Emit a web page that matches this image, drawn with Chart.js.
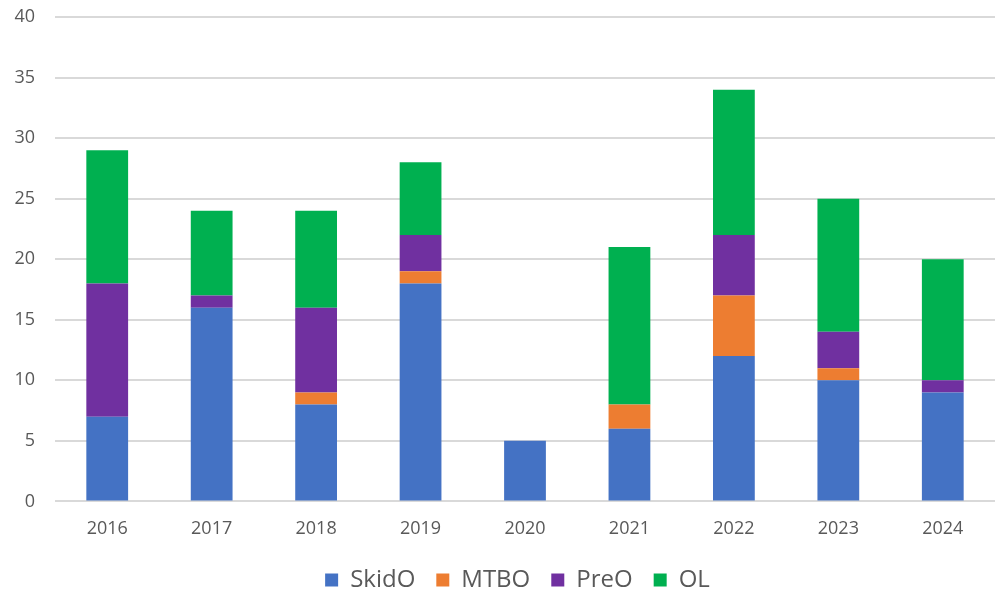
<!DOCTYPE html>
<html>
<head>
<meta charset="utf-8">
<script src="https://cdn.jsdelivr.net/npm/chart.js@4/dist/chart.umd.min.js"></script>
<style>
  html, body { margin: 0; padding: 0; background: #fff; overflow: hidden; }
  #wrap { width: 998px; height: 602px; }
</style>
</head>
<body>
<div id="wrap"><canvas id="chart"></canvas></div>
<script>
// Data
const years = ['2016', '2017', '2018', '2019', '2020', '2021', '2022', '2023', '2024'];
const skido = [7, 16, 8, 18, 5, 6, 12, 10, 9];
const mtbo  = [0, 0, 1, 1, 0, 2, 5, 1, 0];
const preo  = [11, 1, 7, 3, 0, 0, 5, 3, 1];
const ol    = [11, 7, 8, 6, 0, 13, 12, 11, 10];

const fontFamily = '"Open Sans", "Noto Sans", sans-serif';

function series(label, data, color) {
    return {
        label: label,
        data: data,
        backgroundColor: color,
        borderWidth: 0,
        barPercentage: 0.4,
        categoryPercentage: 1.0
    };
}

// centre the legend under the plot area rather than the whole canvas
const legendShift = {
    id: 'legendShift',
    afterLayout(chart) {
        chart.legend.left += 40;
    }
};

new Chart(document.getElementById('chart'), {
    type: 'bar',
    data: {
        labels: years,
        datasets: [
            series('SkidO', skido, '#4472C4'),
            series('MTBO', mtbo, '#ED7D31'),
            series('PreO', preo, '#7030A0'),
            series('OL', ol, '#00B050')
        ]
    },
    plugins: [legendShift],
    options: {
        responsive: true,
        maintainAspectRatio: false,
        animation: false,
        layout: { padding: { top: 17, right: 3, left: 0, bottom: 0 } },
        plugins: {
            legend: {
                position: 'bottom',
                labels: {
                    color: '#595959',
                    font: { family: fontFamily, size: 24 },
                    boxWidth: 13,
                    boxHeight: 13,
                    padding: 21
                }
            },
            tooltip: { enabled: false }
        },
        scales: {
            x: {
                stacked: true,
                grid: { display: false },
                border: { display: false },
                afterFit: function(scale) { scale.height -= 2; },
                ticks: {
                    color: '#595959',
                    font: { family: fontFamily, size: 18 },
                    padding: 9
                }
            },
            y: {
                stacked: true,
                min: 0,
                max: 40,
                afterFit: function(scale) {
                    scale.width = 55;
                    scale.paddingTop = 0;
                },
                grid: { color: '#D9D9D9', lineWidth: 2, drawTicks: false },
                border: { display: false },
                ticks: {
                    stepSize: 5,
                    color: '#595959',
                    font: { family: fontFamily, size: 18 },
                    padding: 20
                }
            }
        }
    }
});
</script>
</body>
</html>
